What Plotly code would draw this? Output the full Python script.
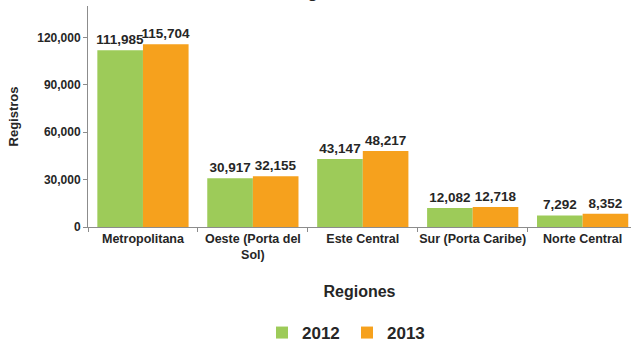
import plotly.graph_objects as go

# Registros por región, 2012 vs 2013
regiones = ["Metropolitana", "Oeste (Porta del<br>Sol)", "Este Central",
            "Sur (Porta Caribe)", "Norte Central"]
registros_2012 = [111985, 30917, 43147, 12082, 7292]
registros_2013 = [115704, 32155, 48217, 12718, 8352]
y_ticks = [0, 30000, 60000, 90000, 120000]

verde = "#9DCB59"
naranja = "#F6A11D"
texto = "#262626"
fuente = "Liberation Sans, Arial, sans-serif"

fig = go.Figure()
for nombre, valores, color in [("2012", registros_2012, verde),
                               ("2013", registros_2013, naranja)]:
    fig.add_trace(go.Bar(
        name=nombre, x=regiones, y=valores,
        marker=dict(color=color, line=dict(width=0)),
        texttemplate="%{y:,}", textposition="outside",
        constraintext="none", cliponaxis=False,
        textfont=dict(family=fuente, size=13.5, color=texto, weight="bold"),
    ))

fig.update_layout(
    width=631, height=343,
    margin=dict(l=88, r=0, t=6, b=116, autoexpand=False),
    paper_bgcolor="white", plot_bgcolor="white",
    barmode="group", bargap=0.17, bargroupgap=0,
    font=dict(family=fuente, color=texto),
    showlegend=True,
    legend=dict(orientation="h", x=(262 - 88) / 543, xanchor="left",
                yref="container", y=(343 - 333) / 343, yanchor="middle",
                font=dict(family=fuente, size=17, color=texto, weight="bold"),
                itemwidth=30, entrywidth=40, traceorder="normal"),
    annotations=[dict(text="agosto", xref="paper", yref="paper",
                      x=(326 - 88) / 543, y=1.062, xanchor="center", yanchor="middle",
                      showarrow=False,
                      font=dict(family=fuente, size=17, color=texto, weight="bold"))],
)

fig.update_xaxes(
    range=[-0.5, 4.44], showline=True, linecolor="#8C8C8C", linewidth=1,
    ticks="outside", tickson="boundaries", ticklen=4, tickcolor="#8C8C8C",
    tickangle=0,
    tickfont=dict(family=fuente, size=12.5, color=texto, weight="bold"),
    title=dict(text="Regiones", standoff=24,
               font=dict(family=fuente, size=16, color=texto, weight="bold")),
    showgrid=False, automargin=False,
)
fig.update_yaxes(
    range=[0, 140000], tickvals=y_ticks, tickformat=",",
    showline=True, linecolor="#8C8C8C", linewidth=1,
    ticks="outside", ticklen=4, tickcolor="#8C8C8C",
    tickfont=dict(family=fuente, size=12, color=texto, weight="bold"),
    title=dict(text="Registros", standoff=15,
               font=dict(family=fuente, size=13, color=texto, weight="bold")),
    showgrid=False, zeroline=False, automargin=False,
)

fig.write_html("out.html")
